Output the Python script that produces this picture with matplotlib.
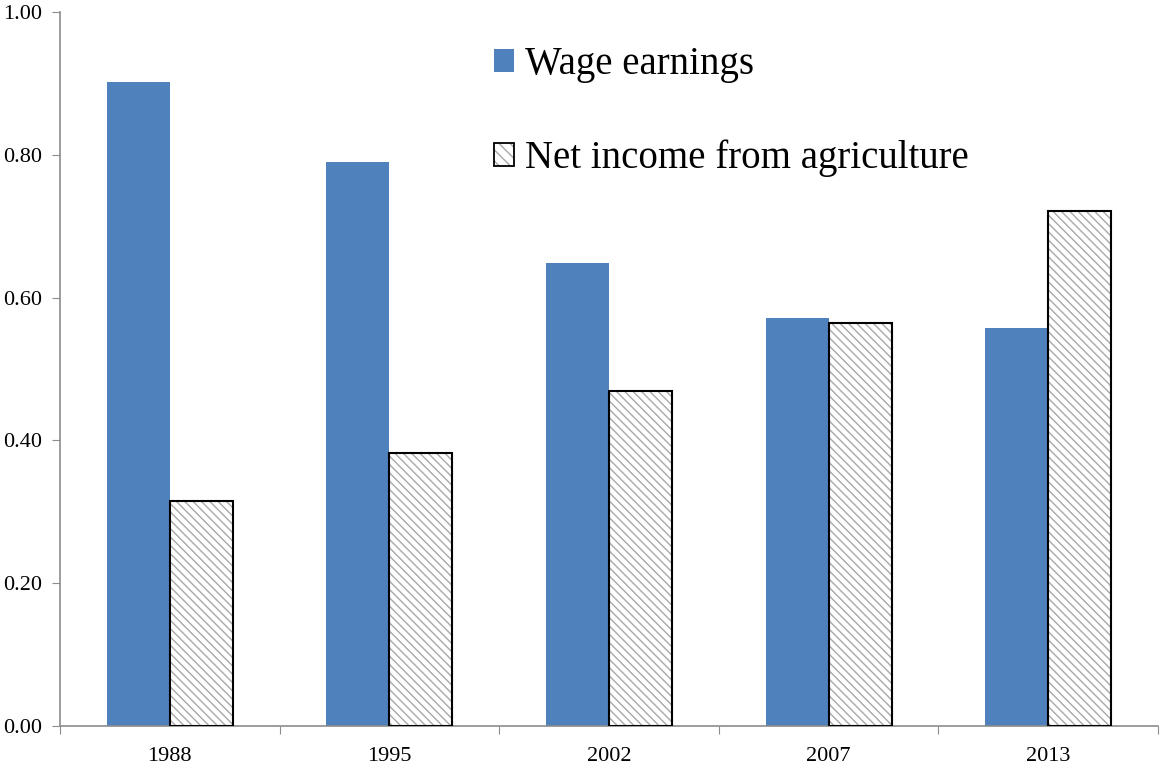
import matplotlib
matplotlib.use("Agg")
import matplotlib.pyplot as plt
from matplotlib.patches import Patch
import numpy as np

years = ["1988", "1995", "2002", "2007", "2013"]
wage = [0.902, 0.790, 0.648, 0.571, 0.557]
agri = [0.315, 0.382, 0.469, 0.564, 0.721]
yticks = [0.0, 0.2, 0.4, 0.6, 0.8, 1.0]

plt.rcParams['font.family'] = ['Liberation Serif', 'DejaVu Serif']
plt.rcParams['hatch.linewidth'] = 1.0

blue = '#4F81BD'
axis_gray = '#8C8C8C'
hatch_gray = '#A8A8A8'
HATCH = '\\' * 4

fig = plt.figure(figsize=(11.6, 7.67), dpi=100)
ax = fig.add_axes([60/1160, 1-726/767, 1098/1160, (726-12)/767])

x = np.arange(len(years))
w = 0.287
ax.bar(x - w/2, wage, width=w, color=blue, linewidth=0, zorder=2)
ax.bar(x + w/2, agri, width=w, color='white', edgecolor=hatch_gray,
       hatch=HATCH, linewidth=0, zorder=2)
ax.bar(x + w/2, agri, width=w, fill=False, edgecolor='black',
       linewidth=1.5, zorder=3)

ax.set_xlim(-0.5, len(years) - 0.5)
ax.set_ylim(0, 1.0)
ax.set_yticks(yticks)
ax.set_yticklabels([f"{v:.2f}" for v in yticks], fontsize=16)

ax.set_xticks(np.arange(len(years) + 1) - 0.5)
ax.set_xticklabels([])
ax.set_xticks(x, minor=True)
ax.set_xticklabels(years, minor=True, fontsize=16)
ax.tick_params(axis='x', which='minor', length=0, pad=15)
ax.tick_params(axis='x', which='major', length=6, color=axis_gray, direction='out')
ax.tick_params(axis='y', length=6, color=axis_gray, direction='out', pad=7)

for s in ['top', 'right']:
    ax.spines[s].set_visible(False)
for s in ['left', 'bottom']:
    ax.spines[s].set_color(axis_gray)
    ax.spines[s].set_linewidth(1.2)

h1 = Patch(facecolor=blue, linewidth=0)
h2a = Patch(facecolor='white', edgecolor=hatch_gray, hatch='\\' * 3, linewidth=0)
h2b = Patch(fill=False, edgecolor='black', linewidth=1.3)
ax.legend([h1, (h2a, h2b)], ["Wage earnings", "Net income from agriculture"],
          loc='upper left', bbox_to_anchor=((494 - 60) / 1098, 1 - (46 - 12) / 714),
          frameon=False, fontsize=28, handlelength=0.52, handleheight=0.52,
          handletextpad=0.28, labelspacing=1.45, borderaxespad=0, borderpad=0)

fig.savefig("out.png", dpi=100)
